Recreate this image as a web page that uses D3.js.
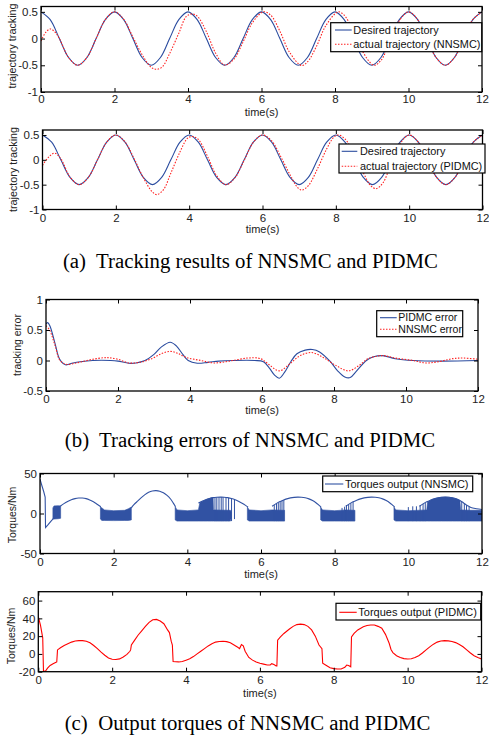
<!DOCTYPE html>
<html><head><meta charset="utf-8">
<script src="https://cdn.jsdelivr.net/npm/d3@7"></script>
<style>
body{margin:0;background:#fff;}
svg{display:block;}
text{font-family:"Liberation Sans",Arial,sans-serif;}
.cap{font-family:"Liberation Serif","Times New Roman",serif;white-space:pre;}
</style></head><body>
<svg id="c" width="489" height="740"></svg>
<script>
// ---------- tick labels ----------
const xTicks=[0,2,4,6,8,10,12];
const trackYTicks=[-1,-0.5,0,0.5];
const errYTicks=[-0.5,0,0.5,1];
const nnTqYTicks=[-50,0,50];
const pidTqYTicks=[-20,0,20,40,60];

// ---------- texts ----------
const captions=["(a)  Tracking results of NNSMC and PIDMC","(b)  Tracking errors of NNSMC and PIDMC","(c)  Output torques of NNSMC and PIDMC"];
const legend1=["Desired trajectory","actual trajectory (NNSMC)"];
const legend2=["Desired trajectory","actual trajectory (PIDMC)"];
const legend3=["PIDMC error","NNSMC error"];
const legend4=["Torques output (NNSMC)"];
const legend5=["Torques output (PIDMC)"];

// ---------- tracking data ----------
const trackT=d3.range(0,12.001,0.25);
const desired=[0.5,0.354,0,-0.354,-0.5,-0.354,0,0.354,
0.5,0.354,0,-0.354,-0.5,-0.354,0,0.354,
0.5,0.354,0,-0.354,-0.5,-0.354,0,0.354,
0.5,0.354,0,-0.354,-0.5,-0.354,0,0.354,
0.5,0.354,0,-0.354,-0.5,-0.354,0,0.354,
0.5,0.354,0,-0.354,-0.5,-0.354,0,0.354,
0.5];
const nnsmcActual=[[0,-0.045],[0.12,0.11],[0.25,0.18],[0.37,0.13],[0.5,0.0],[0.75,-0.354],[1,-0.5],[1.25,-0.354],[1.5,0],[1.75,0.354],[2,0.5],[2.25,0.36],[2.5,0.03],[2.75,-0.3],[3.0,-0.54],[3.15,-0.575],[3.3,-0.53],[3.5,-0.28],[3.75,0.1],[3.95,0.41],[4.1,0.46],[4.25,0.42],[4.5,0.13],[4.75,-0.27],[5.0,-0.495],[5.25,-0.385],[5.5,-0.06],[5.75,0.294],[6.05,0.5],[6.25,0.438],[6.5,0.14],[6.75,-0.241],[7.09,-0.505],[7.25,-0.438],[7.5,-0.14],[7.75,0.241],[8.09,0.5],[8.25,0.438],[8.5,0.14],[8.75,-0.241],[9.06,-0.5],[9.25,-0.41],[9.5,-0.047],[9.75,0.333],[10,0.5],[10.25,0.354],[10.5,0],[10.75,-0.354],[11,-0.5],[11.25,-0.354],[11.5,0],[11.75,0.354],[12,0.5]];
const pidmcActual=[[0,-0.11],[0.15,0.04],[0.33,0.135],[0.5,0.02],[0.75,-0.345],[1,-0.5],[1.25,-0.354],[1.5,0],[1.75,0.354],[2,0.5],[2.25,0.36],[2.5,0.02],[2.75,-0.36],[3.0,-0.65],[3.12,-0.7],[3.3,-0.6],[3.5,-0.27],[3.75,0.16],[3.95,0.43],[4.08,0.47],[4.25,0.41],[4.5,0.07],[4.75,-0.32],[5,-0.5],[5.25,-0.36],[5.5,-0.01],[5.75,0.35],[6,0.5],[6.25,0.38],[6.5,0.06],[6.75,-0.3],[6.95,-0.55],[7.07,-0.61],[7.25,-0.52],[7.5,-0.18],[7.75,0.22],[7.95,0.46],[8.07,0.5],[8.25,0.42],[8.5,0.12],[8.75,-0.26],[8.95,-0.52],[9.1,-0.58],[9.28,-0.47],[9.5,-0.1],[9.75,0.32],[10,0.5],[10.25,0.354],[10.5,0],[10.75,-0.354],[11,-0.5],[11.25,-0.354],[11.5,0],[11.75,0.354],[12,0.5]];

// ---------- tracking error data ----------
const pidmcError=[[0,0.6],[0.05,0.62],[0.12,0.55],[0.25,0.28],[0.38,0.02],[0.54,-0.07],[0.75,-0.04],[0.95,-0.02],[1.3,0.0],[1.8,0.0],[2.0,-0.01],[2.3,-0.045],[2.5,-0.04],[2.75,0.0],[3.0,0.1],[3.2,0.22],[3.45,0.3],[3.62,0.24],[3.8,0.1],[3.95,0.0],[4.2,-0.045],[4.5,-0.03],[4.8,-0.01],[5.2,0.0],[5.8,0.0],[6.04,-0.02],[6.2,-0.12],[6.35,-0.24],[6.48,-0.29],[6.62,-0.2],[6.8,-0.02],[6.97,0.11],[7.2,0.17],[7.4,0.18],[7.6,0.14],[7.9,-0.02],[8.1,-0.17],[8.3,-0.27],[8.45,-0.28],[8.6,-0.19],[8.9,0.0],[9.1,0.06],[9.35,0.08],[9.7,0.03],[10.2,0.0],[11,-0.01],[12,0.0]];
const nnsmcError=[[0,0.57],[0.1,0.5],[0.25,0.25],[0.39,0.0],[0.58,-0.065],[0.8,-0.045],[1.0,-0.02],[1.3,0.02],[1.6,0.045],[1.75,0.045],[2.0,0.02],[2.3,-0.04],[2.6,-0.03],[2.9,0.02],[3.2,0.11],[3.45,0.15],[3.65,0.12],[3.9,0.05],[4.3,0.0],[4.66,-0.04],[5.0,-0.02],[5.2,0.0],[5.6,0.04],[5.96,0.03],[6.2,-0.07],[6.48,-0.17],[6.78,-0.05],[7.06,0.08],[7.38,0.13],[7.7,0.05],[8.05,-0.08],[8.4,-0.17],[8.7,-0.08],[8.95,0.03],[9.35,0.08],[9.7,0.04],[10.2,0.0],[10.55,-0.04],[10.9,-0.02],[11.3,0.03],[11.6,0.04],[12,0.02]];

// ---------- NNSMC torque data ----------
const nnArcs=[
 [[0,43],[0.05,35],[0.1,27.5],[0.14,20.5],[0.15,-17.6],[0.22,-14],[0.3,-9.5],[0.36,-6.5]],
 [[0.55,9],[0.65,12.3],[0.75,15],[0.85,17.2],[0.95,18.6],[1.05,19.3],[1.15,19.3],[1.25,18.6],[1.35,17],[1.45,14.6],[1.55,11.6],[1.65,8.5]],
 [[2.48,7],[2.55,11],[2.65,15.5],[2.75,19.8],[2.85,23.6],[2.95,26.5],[3.05,28.2],[3.15,28.6],[3.25,27.9],[3.35,25.9],[3.45,22.6],[3.55,17.8],[3.62,13],[3.68,8.5]],
 [[4.3,13],[4.4,15.3],[4.5,17.3],[4.6,18.8],[4.7,19.8],[4.8,20.3],[4.9,20.5],[5.0,20.4],[5.1,19.8],[5.2,18.7],[5.3,17.1],[5.4,15],[5.5,12.5],[5.58,10.2],[5.65,8]],
 [[6.3,9],[6.4,12],[6.5,14.6],[6.6,16.6],[6.7,18.3],[6.8,19.5],[6.9,20.2],[7.0,20.5],[7.1,20.3],[7.2,19.6],[7.3,18.3],[7.4,16.2],[7.5,13.2],[7.57,10.5],[7.63,8]],
 [[8.3,9],[8.4,12],[8.5,14.6],[8.6,16.6],[8.7,18.3],[8.8,19.5],[8.9,20.2],[9.0,20.5],[9.1,20.3],[9.2,19.6],[9.3,18.3],[9.4,16.2],[9.5,13.2],[9.57,10.5],[9.63,8]],
 [[10.3,9],[10.4,12],[10.5,14.6],[10.6,16.6],[10.7,18.3],[10.8,19.5],[10.9,20.2],[11.0,20.5],[11.1,20.3],[11.2,19.6],[11.3,18.3],[11.4,16.2],[11.5,13.2],[11.6,10],[11.7,7.5],[11.85,6],[12,5]]
];
const nnBands=[
 [[0.35,-7,7],[0.38,-7,9.5],[0.5,-6.5,9.8],[0.56,-6,9.5]],
 [[1.64,-7,8.5],[1.68,-8.7,7],[1.75,-8.7,4.5],[2.0,-8.9,3.5],[2.3,-8.7,4],[2.4,-8.7,6],[2.48,-8,8]],
 [[3.67,-8,8.5],[3.72,-9.5,4.5],[4.0,-9.5,3.5],[4.3,-9.5,4.5],[4.34,-9.5,13.5],[4.45,-9.5,16.3],[4.55,-9.5,18.1],[4.65,-9.5,19.3],[4.7,-9.5,19.8],[4.71,-9.5,4.5],[5.17,-9.5,4],[5.19,-6,2]],
 [[5.63,-8,8],[5.68,-9.5,4.5],[6.0,-9.5,3.5],[6.3,-9.5,4.5],[6.64,-9.5,4]],
 [[7.62,-8,8],[7.67,-9.5,4.5],[8.0,-9.5,3.5],[8.3,-9.5,4.5],[8.55,-9.5,4]],
 [[9.61,-8,8],[9.66,-9.5,4.5],[10.0,-9.5,3.5],[10.5,-9.5,4.5],[10.52,-9.5,14],[10.6,-9.5,16.6],[10.7,-9.5,18.3],[10.8,-9.5,19.5],[10.9,-9.5,20.2],[11.0,-9.5,20.5],[11.1,-9.5,20.3],[11.2,-9.5,19.6],[11.3,-9.5,18.3],[11.4,-9.5,16.2],[11.42,-9.5,4.5],[11.7,-9.5,4],[12,-9.5,4]]
];
const nnSpikes=[[4.75,-9.5,20],[4.8,-9.5,20.3],[4.86,-9.5,20.4],[4.92,-9.5,20.5],[4.97,-9.5,20.4],[5.05,-9.5,20],[5.12,-9.5,19.4],[5.2,-9.5,18.6],[5.28,-7,17.3],
 [6.36,-9.5,10.5],[6.42,-9.5,12.5],[6.47,-9.5,13.8],[6.52,-9.5,15],[6.57,-9.5,16],[6.62,-9.5,16.9],
 [8.2,-9.5,7],[8.27,-9.5,8.5],[8.32,-9.5,10.5],[8.38,-9.5,11.5],[8.44,-9.5,13],[8.5,-9.5,14.6],
 [10.0,-9.5,8],[10.12,-9.5,9],[10.22,-9.5,9],[10.32,-9.5,10],[10.4,-9.5,12],[10.46,-9.5,13.5],[11.45,-9.5,14.8],[11.52,-9.5,12.5],[11.58,-9.5,10.5],[11.65,-9.5,8.5]];

// ---------- PIDMC torque data ----------
const pidTorque=[[0,42],[0.06,32],[0.12,18],[0.14,-19.8],[0.2,-19],[0.25,-16],[0.32,-13],[0.4,-11],[0.48,-9.5],[0.5,-9],[0.52,4.5],[0.6,7],[0.7,9.5],[0.8,11.5],[0.9,13.3],[1.0,14.5],[1.1,15],[1.2,15],[1.3,14.3],[1.4,12.5],[1.5,9.5],[1.6,6],[1.7,2],[1.8,-1.5],[1.9,-4.5],[2.0,-6],[2.1,-6.3],[2.2,-5.6],[2.3,-3.5],[2.4,-0.5],[2.48,3],[2.5,4.5],[2.52,10],[2.6,15],[2.7,21],[2.8,26],[2.9,31],[3.0,35.5],[3.1,38.5],[3.2,38.8],[3.3,37],[3.4,34],[3.5,27],[3.55,24],[3.6,14],[3.63,10],[3.65,-8.5],[3.8,-9],[3.9,-8.5],[4.0,-7],[4.1,-5.5],[4.2,-3],[4.3,0],[4.4,3],[4.5,6],[4.6,9],[4.7,11.5],[4.8,13.3],[4.9,14],[5.0,14.3],[5.1,13.8],[5.2,12.5],[5.3,10],[5.4,7.5],[5.45,6],[5.5,10.5],[5.55,9],[5.6,3],[5.7,-4],[5.8,-7],[5.9,-9],[6.0,-10.5],[6.1,-11.5],[6.2,-12.5],[6.28,-12.5],[6.32,-11],[6.38,-12],[6.44,-13.5],[6.46,-13.5],[6.48,15.5],[6.55,19],[6.65,23],[6.8,28],[6.9,31],[7.0,33],[7.1,33.5],[7.2,33],[7.3,31],[7.4,27],[7.5,20],[7.6,10],[7.68,6],[7.7,-10.5],[7.8,-13],[7.9,-15.5],[8.0,-16.5],[8.1,-17],[8.2,-17],[8.3,-15],[8.35,-12.5],[8.4,-13],[8.46,-14.5],[8.48,19],[8.55,23],[8.65,27],[8.8,30.5],[8.9,32],[9.0,32.6],[9.1,32.5],[9.2,31],[9.3,29],[9.4,22],[9.5,12],[9.55,5],[9.6,1.5],[9.7,-2],[9.8,-4],[9.9,-5.3],[10.0,-5.7],[10.1,-5.5],[10.2,-4],[10.3,-2],[10.4,1],[10.5,4.5],[10.6,8],[10.7,11],[10.8,13.3],[10.9,14.5],[11.0,15],[11.1,14.7],[11.2,14],[11.3,12.7],[11.4,10.5],[11.5,8],[11.6,4.5],[11.7,1],[11.8,-2],[11.9,-4],[12,-5.7]];

// ---------- drawing ----------
const BLUE="#2b4c9f", RED="#ff2020", TQBLUE="#3152a3";
const svg=d3.select("#c");
const defs=svg.append("defs");
const fmt=d=>String(d);

function panel(p){
  const x=d3.scaleLinear().domain([0,12]).range([p.l,p.r]);
  const y=d3.scaleLinear().domain(p.yd).range([p.b,p.t]);
  const g=svg.append("g");
  defs.append("clipPath").attr("id","cl"+p.id).append("rect")
    .attr("x",p.l).attr("y",p.t).attr("width",p.r-p.l).attr("height",p.b-p.t);
  const plot=g.append("g").attr("clip-path","url(#cl"+p.id+")");
  p.draw(plot,x,y);
  const ax=g.append("g");
  ax.append("g").attr("transform",`translate(0,${p.b})`).call(d3.axisBottom(x).tickValues(xTicks).tickSize(-4).tickPadding(p.xpad||4).tickFormat(fmt));
  ax.append("g").attr("transform",`translate(0,${p.t})`).call(d3.axisTop(x).tickValues(xTicks).tickSize(-4).tickFormat(""));
  ax.append("g").attr("transform",`translate(${p.l},0)`).call(d3.axisLeft(y).tickValues(p.yt).tickSize(-4).tickPadding(3).tickFormat(fmt));
  ax.append("g").attr("transform",`translate(${p.r},0)`).call(d3.axisRight(y).tickValues(p.yt).tickSize(-4).tickFormat(""));
  ax.selectAll(".domain").remove();
  ax.selectAll(".tick line").attr("stroke","#000");
  ax.selectAll(".tick text").attr("font-size",11.5).attr("fill","#222").attr("font-family","Liberation Sans, Arial, sans-serif");
  g.append("rect").attr("x",p.l).attr("y",p.t).attr("width",p.r-p.l).attr("height",p.b-p.t)
    .attr("fill","none").attr("stroke","#000").attr("stroke-width",1.3);
  g.append("text").attr("transform",`translate(${p.ylx},${p.yly}) rotate(-90)`).attr("text-anchor","middle")
    .attr("font-size",p.ylfs).attr("fill","#222").text(p.ylabel);
  g.append("text").attr("x",(p.l+p.r)/2).attr("y",p.xly).attr("text-anchor","middle")
    .attr("font-size",11).attr("fill","#222").text("time(s)");
  if(p.legend){
    const L=p.legend;
    g.append("rect").attr("x",L.x0).attr("y",L.y0).attr("width",L.x1-L.x0).attr("height",L.y1-L.y0)
      .attr("fill","#fff").attr("stroke","#000").attr("stroke-width",1.2);
    L.items.forEach((it,i)=>{
      g.append("line").attr("x1",L.lx0).attr("x2",L.lx1).attr("y1",L.rows[i]).attr("y2",L.rows[i])
        .attr("stroke",it.color).attr("stroke-width",1.1).attr("stroke-dasharray",it.dash||null);
      g.append("text").attr("x",L.tx).attr("y",L.rows[i]).attr("dy","0.35em").attr("font-size",L.fs)
        .attr("fill","#111").text(it.label);
    });
  }
}
function curve(plot,x,y,data,color,dash,c){
  plot.append("path").datum(data).attr("fill","none").attr("stroke",color).attr("stroke-width",1.1)
    .attr("stroke-dasharray",dash||null)
    .attr("d",d3.line().x(d=>x(d[0])).y(d=>y(d[1])).curve(c||d3.curveCatmullRom.alpha(0.5)));
}

// Panel 1
panel({id:1,l:41,r:482,t:6.5,b:92,yd:[-1,0.6],yt:trackYTicks,ylabel:"trajectory tracking",ylx:16,yly:46,ylfs:10.8,xly:115.5,xpad:3,
  draw:(pl,x,y)=>{
    curve(pl,x,y,trackT.map((t,i)=>[t,desired[i]]),BLUE);
    curve(pl,x,y,nnsmcActual,RED,"1.5,1.5");
  },
  legend:{x0:330.7,y0:22.7,x1:481.7,y1:51.7,lx0:335,lx1:351.7,tx:353.3,fs:10.9,rows:[30,44.3],
    items:[{label:legend1[0],color:BLUE},{label:legend1[1],color:RED,dash:"1.5,1.5"}]}
});
// Panel 2
panel({id:2,l:42.5,r:482.5,t:130,b:209.5,yd:[-1,0.6],yt:trackYTicks,ylabel:"trajectory tracking",ylx:16.5,yly:169.5,ylfs:10.8,xly:233,
  draw:(pl,x,y)=>{
    curve(pl,x,y,trackT.map((t,i)=>[t,desired[i]]),BLUE);
    curve(pl,x,y,pidmcActual,RED,"1.5,1.5");
  },
  legend:{x0:339,y0:144,x1:485,y1:173,lx0:341.7,lx1:357.3,tx:360,fs:10.9,rows:[151.3,166.3],
    items:[{label:legend2[0],color:BLUE},{label:legend2[1],color:RED,dash:"1.5,1.5"}]}
});
// Panel 3
panel({id:3,l:46,r:478,t:299.5,b:391,yd:[-0.5,1],yt:errYTicks,ylabel:"tracking error",ylx:20.5,yly:345,ylfs:10.5,xly:414,
  draw:(pl,x,y)=>{
    curve(pl,x,y,pidmcError,BLUE);
    curve(pl,x,y,nnsmcError,RED,"1.5,1.5");
  },
  legend:{x0:376.7,y0:310.7,x1:462.7,y1:336.7,lx0:380,lx1:396.7,tx:398.3,fs:10.5,rows:[317.7,329.3],
    items:[{label:legend3[0],color:BLUE},{label:legend3[1],color:RED,dash:"1.5,1.5"}]}
});
// Panel 4
panel({id:4,l:40,r:482,t:473.5,b:553.5,yd:[-50,50],yt:nnTqYTicks,ylabel:"Torques/Nm",ylx:16.4,yly:515,ylfs:10.5,xly:578,
  draw:(pl,x,y)=>{
    const area=d3.area().x(d=>x(d[0])).y0(d=>y(d[1])).y1(d=>y(d[2]));
    nnBands.forEach(b=>pl.append("path").datum(b).attr("fill",TQBLUE).attr("stroke",TQBLUE).attr("stroke-width",0.6).attr("d",area));
    pl.selectAll("line.sp").data(nnSpikes).join("line").attr("class","sp")
      .attr("x1",d=>x(d[0])).attr("x2",d=>x(d[0])).attr("y1",d=>y(d[1])).attr("y2",d=>y(d[2]))
      .attr("stroke",TQBLUE).attr("stroke-width",1);
    nnArcs.forEach((a,i)=>curve(pl,x,y,a,TQBLUE,null,i===0?d3.curveLinear:d3.curveCatmullRom.alpha(0.5)));
  },
  legend:{x0:322.7,y0:476,x1:472.7,y1:491.7,lx0:325,lx1:343.3,tx:345,fs:11,rows:[484],
    items:[{label:legend4[0],color:TQBLUE}]}
});
// Panel 5
panel({id:5,l:38.3,r:481.5,t:591.7,b:671.7,yd:[-20,70],yt:pidTqYTicks,ylabel:"Torques/Nm",ylx:15.4,yly:636,ylfs:10.5,xly:696.5,
  draw:(pl,x,y)=>{
    curve(pl,x,y,pidTorque,"#ff0000",null,d3.curveLinear);
  },
  legend:{x0:336,y0:603.3,x1:480.7,y1:620,lx0:339.3,lx1:356.7,tx:358.3,fs:11,rows:[612.3],
    items:[{label:legend5[0],color:"#ff0000"}]}
});

// captions
const capPos=[[250.4,268],[250,446.7],[247.5,730]];
captions.forEach((c,i)=>svg.append("text").attr("class","cap").attr("x",capPos[i][0]).attr("y",capPos[i][1])
  .attr("text-anchor","middle").attr("font-size",20.8).attr("fill","#000").text(c));
</script>
</body></html>
